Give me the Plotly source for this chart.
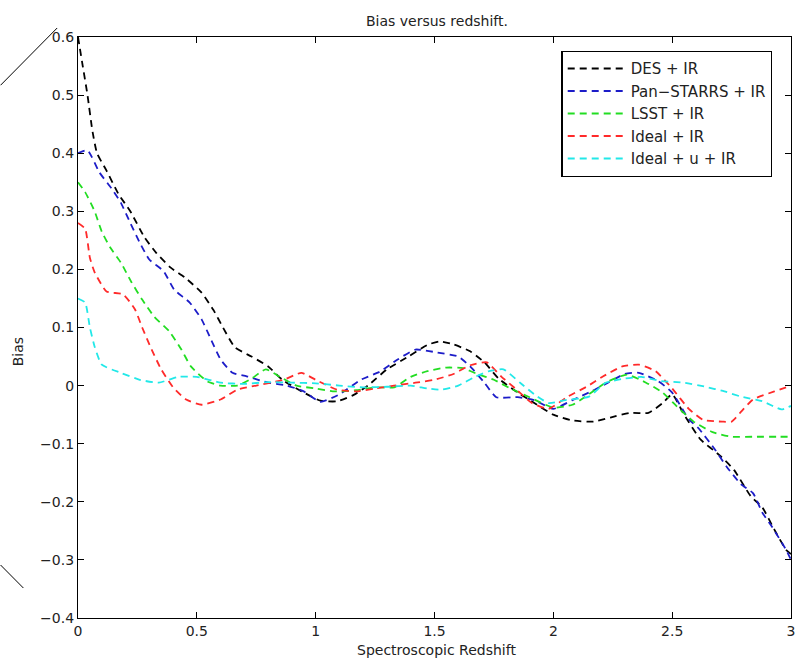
import plotly.graph_objects as go

# ---- data ----
des_x = [0.00, 0.02, 0.04, 0.06, 0.08, 0.12, 0.17, 0.22, 0.28, 0.33, 0.39, 0.45, 0.52, 0.57, 0.61, 0.66,
         0.73, 0.80, 0.86, 0.95, 1.02, 1.09, 1.16, 1.22, 1.30, 1.39, 1.47, 1.52, 1.58, 1.65, 1.71, 1.77,
         1.85, 1.92, 2.00, 2.08, 2.17, 2.24, 2.32, 2.40, 2.46, 2.50, 2.55, 2.62, 2.70, 2.76, 2.83, 2.88,
         2.93, 2.98, 3.00]
des_y = [0.60, 0.55, 0.50, 0.44, 0.40, 0.37, 0.33, 0.30, 0.255, 0.228, 0.203, 0.186, 0.16, 0.13, 0.10, 0.066,
         0.05, 0.033, 0.01, -0.012, -0.026, -0.027, -0.016, 0.0, 0.028, 0.05, 0.07, 0.076, 0.071, 0.059, 0.04, 0.012,
         -0.012, -0.03, -0.05, -0.06, -0.062, -0.055, -0.047, -0.047, -0.03, -0.015, -0.05, -0.093, -0.12, -0.145, -0.19, -0.21,
         -0.248, -0.283, -0.29]

pan_x = [0.00, 0.04, 0.09, 0.14, 0.18, 0.22, 0.26, 0.30, 0.36, 0.405, 0.47, 0.52, 0.56, 0.60, 0.65, 0.71,
         0.80, 0.88, 0.95, 1.02, 1.10, 1.19, 1.27, 1.345, 1.42, 1.51, 1.60, 1.65, 1.71, 1.76, 1.85, 1.92,
         2.00, 2.08, 2.16, 2.23, 2.30, 2.36, 2.44, 2.50, 2.57, 2.61, 2.68, 2.73, 2.79, 2.84, 2.88, 2.92,
         2.98, 3.00]
pan_y = [0.40, 0.405, 0.367, 0.34, 0.315, 0.28, 0.246, 0.217, 0.197, 0.165, 0.143, 0.114, 0.079, 0.045, 0.022, 0.016,
         0.005, 0.0, -0.01, -0.028, -0.015, 0.01, 0.024, 0.045, 0.062, 0.057, 0.05, 0.033, 0.005, -0.02, -0.02, -0.025,
         -0.04, -0.025, -0.01, 0.005, 0.02, 0.022, 0.008, -0.012, -0.058, -0.073, -0.11, -0.14, -0.17, -0.185, -0.219, -0.243,
         -0.283, -0.30]

lsst_x = [0.00, 0.03, 0.07, 0.10, 0.135, 0.18, 0.225, 0.27, 0.32, 0.385, 0.435, 0.475, 0.545, 0.60, 0.67, 0.73,
          0.79, 0.85, 0.92, 1.00, 1.08, 1.17, 1.25, 1.33, 1.40, 1.47, 1.55, 1.62, 1.68, 1.75, 1.82, 1.90,
          2.00, 2.08, 2.15, 2.22, 2.31, 2.39, 2.46, 2.52, 2.59, 2.67, 2.75, 2.85, 2.95, 3.00]
lsst_y = [0.35, 0.333, 0.30, 0.265, 0.238, 0.212, 0.178, 0.148, 0.119, 0.093, 0.062, 0.033, 0.007, 0.0, 0.0, 0.012,
          0.028, 0.015, 0.0, -0.005, -0.01, -0.008, -0.003, -0.003, 0.015, 0.025, 0.031, 0.03, 0.02, 0.01, -0.005, -0.02,
          -0.038, -0.033, -0.015, 0.005, 0.019, 0.005, -0.012, -0.036, -0.062, -0.08, -0.088, -0.088, -0.088, -0.088]

ideal_x = [0.00, 0.03, 0.05, 0.07, 0.12, 0.19, 0.24, 0.27, 0.31, 0.35, 0.40, 0.455, 0.52, 0.60, 0.67, 0.75,
           0.865, 0.94, 1.00, 1.09, 1.17, 1.25, 1.33, 1.42, 1.50, 1.58, 1.65, 1.72, 1.78, 1.84, 1.91, 1.98,
           2.06, 2.14, 2.21, 2.29, 2.36, 2.43, 2.50, 2.57, 2.63, 2.71, 2.75, 2.79, 2.84, 2.93, 3.00]
ideal_y = [0.28, 0.27, 0.22, 0.195, 0.162, 0.157, 0.131, 0.10, 0.062, 0.028, -0.003, -0.024, -0.033, -0.024, -0.007, 0.0,
           0.01, 0.022, 0.01, -0.007, -0.01, -0.005, 0.0, 0.005, 0.01, 0.02, 0.035, 0.04, 0.016, -0.005, -0.03, -0.04,
           -0.019, -0.002, 0.016, 0.033, 0.036, 0.025, -0.005, -0.04, -0.059, -0.062, -0.062, -0.045, -0.024, -0.01, 0.0]

idealu_x = [0.00, 0.03, 0.05, 0.07, 0.10, 0.18, 0.26, 0.34, 0.42, 0.50, 0.60, 0.70, 0.80, 0.90, 1.00, 1.10,
            1.20, 1.30, 1.40, 1.47, 1.53, 1.60, 1.67, 1.73, 1.79, 1.86, 1.92, 1.98, 2.05, 2.15, 2.22, 2.30,
            2.37, 2.45, 2.55, 2.64, 2.72, 2.79, 2.88, 2.96, 3.00]
idealu_y = [0.15, 0.143, 0.10, 0.067, 0.036, 0.022, 0.01, 0.005, 0.015, 0.015, 0.005, 0.003, 0.006, 0.005, 0.004, 0.0,
            -0.003, -0.002, 0.0, -0.005, -0.007, 0.0, 0.015, 0.025, 0.028, 0.005, -0.015, -0.03, -0.025, -0.019, 0.005, 0.012,
            0.015, 0.008, 0.005, -0.002, -0.01, -0.019, -0.027, -0.041, -0.035]

series_names = ["DES + IR", "Pan\u2212STARRS + IR", "LSST + IR", "Ideal + IR", "Ideal + u + IR"]
series_colors = ["#000000", "#1c1cc8", "#22dd22", "#ff2a2a", "#22e8e8"]
series_x = [des_x, pan_x, lsst_x, ideal_x, idealu_x]
series_y = [des_y, pan_y, lsst_y, ideal_y, idealu_y]

x_ticks = [0, 0.5, 1, 1.5, 2, 2.5, 3]
x_ticklabels = ["0", "0.5", "1", "1.5", "2", "2.5", "3"]
y_ticks = [0.6, 0.5, 0.4, 0.3, 0.2, 0.1, 0, -0.1, -0.2, -0.3, -0.4]
y_ticklabels = ["0.6", "0.5", "0.4", "0.3", "0.2", "0.1", "0", "\u22120.1", "\u22120.2", "\u22120.3", "\u22120.4"]

FONT = "DejaVu Sans"
TXT = "#222222"

fig = go.Figure()
for name, col, xs, ys in zip(series_names, series_colors, series_x, series_y):
    fig.add_trace(go.Scatter(
        x=xs, y=ys, mode="lines", name=name,
        line=dict(color=col, width=1.8, dash="7px,5px", shape="spline", smoothing=0.5),
    ))

axis_common = dict(
    showgrid=False, zeroline=False, showline=True, linecolor="black", linewidth=1.3,
    mirror="ticks", ticks="inside", ticklen=6, tickcolor="black", tickwidth=1.2,
    tickfont=dict(family=FONT, size=14, color=TXT),
)

fig.update_layout(
    width=800, height=662,
    paper_bgcolor="white", plot_bgcolor="white",
    margin=dict(l=78, r=5, t=37, b=44),
    showlegend=True,
    title=dict(text="Bias versus redshift.", x=437 / 800, xanchor="center",
               y=1 - 21 / 662, yanchor="middle", yref="container",
               font=dict(family=FONT, size=14, color=TXT)),
    xaxis=dict(range=[0, 3], tickvals=x_ticks, ticktext=x_ticklabels, **axis_common),
    yaxis=dict(range=[-0.4, 0.6], tickvals=y_ticks, ticktext=y_ticklabels, **axis_common),
    legend=dict(x=0.678, y=0.976, xanchor="left", yanchor="top",
                bgcolor="white", bordercolor="black", borderwidth=1.3,
                font=dict(family=FONT, size=15, color=TXT), itemwidth=58,
                tracegroupgap=0),
    annotations=[
        dict(text="Spectroscopic Redshift", xref="paper", yref="paper", x=0.503, y=-0.055,
             xanchor="center", yanchor="middle", showarrow=False,
             font=dict(family=FONT, size=14, color=TXT)),
        dict(text="Bias", xref="paper", yref="paper", x=-0.0836, y=0.458, textangle=-90,
             xanchor="center", yanchor="middle", showarrow=False,
             font=dict(family=FONT, size=14, color=TXT)),
    ],
    shapes=[
        dict(type="line", xref="paper", yref="paper", x0=-0.1086, y0=0.917, x1=-0.0292, y1=1.0155,
             line=dict(color="black", width=1)),
        dict(type="line", xref="paper", yref="paper", x0=-0.1086, y0=0.0912, x1=-0.0766, y1=0.0516,
             line=dict(color="black", width=1)),
    ],
)

# remove the default page margin so the figure sits at the window's top-left corner
fig.write_html("out.html", config={"displayModeBar": False},
               post_script="document.body.style.margin='0';document.body.style.overflow='hidden';")
